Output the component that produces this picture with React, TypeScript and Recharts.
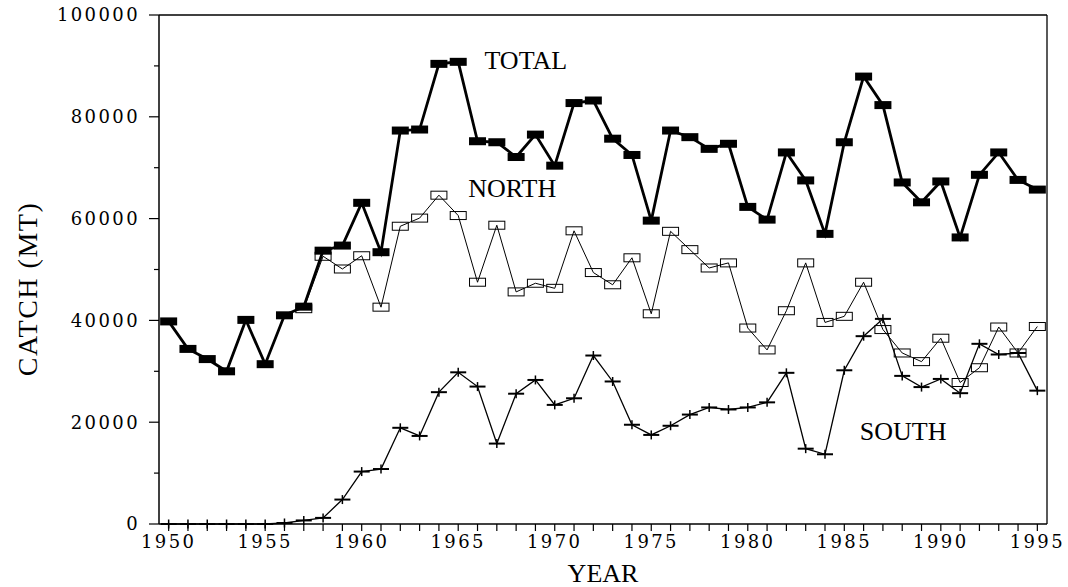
import { LineChart, Line, XAxis, YAxis, ReferenceLine, ReferenceDot } from 'recharts'

const years = [
  1950, 1951, 1952, 1953, 1954, 1955, 1956, 1957, 1958, 1959,
  1960, 1961, 1962, 1963, 1964, 1965, 1966, 1967, 1968, 1969,
  1970, 1971, 1972, 1973, 1974, 1975, 1976, 1977, 1978, 1979,
  1980, 1981, 1982, 1983, 1984, 1985, 1986, 1987, 1988, 1989,
  1990, 1991, 1992, 1993, 1994, 1995,
]

const totalCatch = [
  39800, 34400, 32400, 30000, 40100, 31400, 41000, 42700, 53700, 54700,
  63100, 53400, 77300, 77500, 90400, 90800, 75200, 75000, 72100, 76500,
  70400, 82700, 83200, 75700, 72500, 59600, 77300, 76000, 73700, 74700,
  62300, 59800, 73000, 67500, 57000, 75000, 87900, 82300, 67100, 63200,
  67300, 56300, 68600, 73000, 67600, 65700,
]

// north is only visible from 1957 on (earlier it sits under the total)
const northCatch = [
  null, null, null, null, null, null, null, 42300, 52600, 50100,
  52700, 42600, 58500, 60100, 64600, 60600, 47500, 58700, 45600, 47300,
  46300, 57600, 49400, 47000, 52300, 41300, 57500, 53900, 50300, 51300,
  38500, 34200, 41900, 51300, 39600, 40800, 47500, 38200, 33600, 31900,
  36500, 27800, 30700, 38700, 33600, 38800,
]

const southCatch = [
  0, 0, 0, 0, 0, 0, 200, 700, 1200, 4800,
  10300, 10800, 18900, 17300, 25900, 29800, 27000, 15800, 25600, 28300,
  23400, 24700, 33100, 28000, 19500, 17500, 19300, 21500, 22900, 22500,
  22900, 23900, 29700, 14800, 13700, 30200, 36900, 40300, 29100, 26900,
  28500, 25700, 35400, 33300, 33600, 26200,
]

const yTicks = [0, 10000, 20000, 30000, 40000, 50000, 60000, 70000, 80000, 90000, 100000]
const yLabelled = [0, 20000, 40000, 60000, 80000, 100000]
const xLabelled = [1950, 1955, 1960, 1965, 1970, 1975, 1980, 1985, 1990, 1995]

const seriesNames = ['TOTAL', 'NORTH', 'SOUTH']
const nameYears = [1968.5, 1967.8, 1988.05]
const nameValues = [91200, 66000, 18300]

const data = years.map((year, i) => ({
  year,
  total: totalCatch[i],
  north: northCatch[i],
  south: southCatch[i],
}))

const TICK_SIZE = 10
const TICK_MARGIN = 9
const DIGIT_FONT = { fontFamily: '"DejaVu Serif", serif', fontSize: 18, fill: '#000', letterSpacing: 2.4 }
const TEXT_FONT = '"Liberation Serif", "Times New Roman", serif'

// eslint-disable-next-line @typescript-eslint/no-explicit-any
function YTick({ x, y, payload }: any) {
  const axisX = x + TICK_SIZE + TICK_MARGIN
  const major = yLabelled.includes(payload.value)
  return (
    <g>
      <line x1={axisX - (major ? 10 : 5)} x2={axisX} y1={y} y2={y} stroke="#000" strokeWidth={1.2} />
      {major && (
        <text x={x} y={y} dy="0.36em" textAnchor="end" {...DIGIT_FONT}>
          {payload.value}
        </text>
      )}
    </g>
  )
}

// eslint-disable-next-line @typescript-eslint/no-explicit-any
function TotalDot({ cx, cy, index }: any) {
  if (cx == null || cy == null) return <g key={`t${index}`} />
  return <rect key={`t${index}`} x={cx - 8.5} y={cy - 4} width={17} height={8} fill="#000" />
}

// eslint-disable-next-line @typescript-eslint/no-explicit-any
function NorthDot({ cx, cy, index }: any) {
  if (cx == null || cy == null) return <g key={`n${index}`} />
  return <rect key={`n${index}`} x={cx - 8} y={cy - 4} width={16} height={8} fill="none" stroke="#000" strokeWidth={1} />
}

// eslint-disable-next-line @typescript-eslint/no-explicit-any
function SouthDot({ cx, cy, index }: any) {
  if (cx == null || cy == null) return <g key={`s${index}`} />
  return (
    <g key={`s${index}`}>
      <line x1={cx - 8} x2={cx + 8} y1={cy} y2={cy} stroke="#000" strokeWidth={2} />
      <line x1={cx} x2={cx} y1={cy - 4.5} y2={cy + 4.5} stroke="#000" strokeWidth={1.5} />
    </g>
  )
}

export default function App() {
  return (
    <div style={{ position: 'absolute', left: 0, top: 0, width: 1068, height: 587, background: '#fff' }}>
      <LineChart width={1068} height={587} data={data} margin={{ top: 15, right: 21, left: 0, bottom: 0 }}>
        <XAxis
          dataKey="year"
          type="number"
          domain={[1949.5, 1995.5]}
          ticks={years}
          interval={0}
          tickFormatter={(v: number) => (xLabelled.includes(v) ? String(v) : '')}
          tickSize={7}
          tickMargin={4}
          height={63}
          axisLine={{ stroke: '#000', strokeWidth: 1.5 }}
          tickLine={{ stroke: '#000', strokeWidth: 1.2 }}
          tick={DIGIT_FONT}
          label={{ value: 'YEAR', position: 'insideBottom', offset: 5, fill: '#000', fontSize: 26, fontFamily: TEXT_FONT }}
        />
        <YAxis
          type="number"
          domain={[0, 100000]}
          ticks={yTicks}
          interval={0}
          width={159}
          tickSize={TICK_SIZE}
          tickMargin={TICK_MARGIN}
          tickLine={false}
          axisLine={{ stroke: '#000', strokeWidth: 1.5 }}
          tick={(p: any) => <YTick {...p} />}
          label={{
            content: () => (
              <text
                x={37}
                y={289}
                transform="rotate(-90 37 289)"
                textAnchor="middle"
                fill="#000"
                fontSize={28}
                letterSpacing={1.5}
                fontFamily={TEXT_FONT}
              >
                CATCH (MT)
              </text>
            ),
          }}
        />
        <ReferenceLine y={100000} stroke="#000" strokeWidth={1.3} />
        <ReferenceLine x={1995.5} stroke="#000" strokeWidth={1.3} />

        <Line dataKey="north" type="linear" stroke="#000" strokeWidth={1} dot={NorthDot} activeDot={false} isAnimationActive={false} />
        <Line dataKey="south" type="linear" stroke="#000" strokeWidth={1.3} dot={SouthDot} activeDot={false} isAnimationActive={false} />
        <Line dataKey="total" type="linear" stroke="#000" strokeWidth={2.8} dot={TotalDot} activeDot={false} isAnimationActive={false} />

        {seriesNames.map((name, i) => (
          <ReferenceDot
            key={name}
            x={nameYears[i]}
            y={nameValues[i]}
            r={0}
            fill="none"
            stroke="none"
            label={{ value: name, position: 'center', fill: '#000', fontSize: 26, fontFamily: TEXT_FONT }}
          />
        ))}
      </LineChart>
    </div>
  )
}
